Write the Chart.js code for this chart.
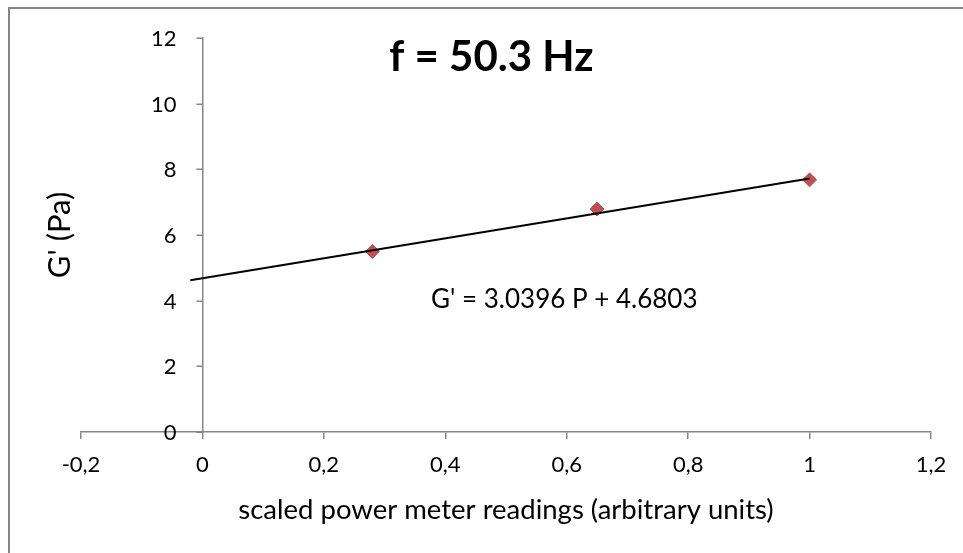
<!DOCTYPE html>
<html>
<head>
<meta charset="utf-8">
<title>G' vs power meter readings</title>
<script src="https://cdn.jsdelivr.net/npm/chart.js@4.4.1/dist/chart.umd.min.js"></script>
<style>
  html, body { margin: 0; padding: 0; background: #fff; }
</style>
</head>
<body>
<canvas id="gprime-chart" width="963" height="553"></canvas>
<script>
// measured storage modulus against scaled power meter readings
const powerReadings = [0.28, 0.65, 1.0];
const storageModulus = [5.50, 6.79, 7.68];

const xTickValues = [-0.2, 0, 0.2, 0.4, 0.6, 0.8, 1, 1.2];
const xTickLabels = ['-0,2', '0', '0,2', '0,4', '0,6', '0,8', '1', '1,2'];
const yTickValues = [0, 2, 4, 6, 8, 10, 12];
const yTickLabels = ['0', '2', '4', '6', '8', '10', '12'];

// linear fit, extended back 0.3 from the first reading
const fitSlope = 3.0396;
const fitIntercept = 4.6803;
const trendRange = [-0.02, 1.0];

const AXIS_GREY = '#868686';
const FONT = 'Lato';

const trendPoints = trendRange.map((x) => ({ x: x, y: fitSlope * x + fitIntercept }));
const measuredPoints = powerReadings.map((x, i) => ({ x: x, y: storageModulus[i] }));

// frame, heading, fit equation, y title and the y tick labels
// (the y axis sits at x = 0, where chart.js puts no label offset)
const chartDecorations = {
  id: 'chartDecorations',
  beforeDraw(chart) {
    const ctx = chart.ctx;
    ctx.save();
    ctx.fillStyle = '#fff';
    ctx.fillRect(0, 0, chart.width, chart.height);
    ctx.strokeStyle = AXIS_GREY;
    ctx.lineWidth = 2;
    ctx.strokeRect(9, 8, chart.width + 20, chart.height + 20);
    ctx.restore();
  },
  afterDraw(chart) {
    const { ctx, scales: { x, y } } = chart;
    const axisX = x.getPixelForValue(0);
    ctx.save();

    // y tick marks and labels
    ctx.strokeStyle = AXIS_GREY;
    ctx.lineWidth = 1.5;
    ctx.beginPath();
    yTickValues.forEach((v) => {
      const py = Math.round(y.getPixelForValue(v)) + 0.25;
      ctx.moveTo(axisX - 6, py);
      ctx.lineTo(axisX, py);
    });
    ctx.stroke();

    ctx.fillStyle = '#000';
    ctx.font = `22px ${FONT}`;
    ctx.textAlign = 'right';
    ctx.textBaseline = 'middle';
    yTickValues.forEach((v, i) => {
      ctx.fillText(yTickLabels[i], axisX - 26, y.getPixelForValue(v) + 1);
    });

    ctx.textAlign = 'center';
    ctx.font = `bold 42px ${FONT}`;
    ctx.fillText('f = 50.3 Hz', x.getPixelForValue(0.476), y.getPixelForValue(11.42));

    ctx.font = `26px ${FONT}`;
    ctx.fillText(`G' = ${fitSlope} P + ${fitIntercept}`, x.getPixelForValue(0.596), y.getPixelForValue(4.03));

    ctx.translate(60, (chart.chartArea.top + chart.chartArea.bottom) / 2);
    ctx.rotate(-Math.PI / 2);
    ctx.font = `31px ${FONT}`;
    ctx.fillText("G' (Pa)", 0, 0);
    ctx.restore();
  },
};

const chart = new Chart(
  document.getElementById('gprime-chart'),
  {
    type: 'scatter',
    data: {
      datasets: [
        {
          type: 'line',
          label: 'fit',
          data: trendPoints,
          borderColor: '#000',
          borderWidth: 2,
          pointRadius: 0,
          order: 0,
        },
        {
          label: "G'",
          data: measuredPoints,
          pointStyle: 'rectRot',
          pointRadius: 7,
          backgroundColor: '#C0504D',
          borderColor: '#B9504D',
          borderWidth: 1,
          order: 1,
        },
      ],
    },
    options: {
      responsive: false,
      devicePixelRatio: 1,
      animation: false,
      layout: {
        padding: { top: 38, left: 81, right: 32, bottom: 0 },
      },
      plugins: {
        legend: { display: false },
        tooltip: { enabled: false },
      },
      scales: {
        x: {
          type: 'linear',
          position: 'bottom',
          min: -0.2,
          max: 1.2,
          afterBuildTicks: (scale) => {
            scale.ticks = xTickValues.map((v) => ({ value: v }));
          },
          afterFit: (scale) => {
            scale.height = 121;
          },
          border: { color: AXIS_GREY, width: 1.5 },
          grid: {
            drawOnChartArea: false,
            drawTicks: true,
            tickLength: 7,
            color: AXIS_GREY,
            lineWidth: 1.5,
          },
          ticks: {
            color: '#000',
            padding: 13,
            font: { family: FONT, size: 22 },
            maxRotation: 0,
            callback: (value, index) => xTickLabels[index],
          },
          title: {
            display: true,
            text: 'scaled power meter readings (arbitrary units)',
            color: '#000',
            font: { family: FONT, size: 27.5 },
            padding: { top: 0, bottom: 26 },
          },
        },
        y: {
          type: 'linear',
          position: { x: 0 },
          min: 0,
          max: 12,
          afterBuildTicks: (scale) => {
            scale.ticks = yTickValues.map((v) => ({ value: v }));
          },
          border: { color: AXIS_GREY, width: 1.5 },
          grid: {
            drawOnChartArea: false,
            drawTicks: false,
          },
          ticks: { display: false },
        },
      },
    },
    plugins: [chartDecorations],
  },
);
</script>
</body>
</html>
